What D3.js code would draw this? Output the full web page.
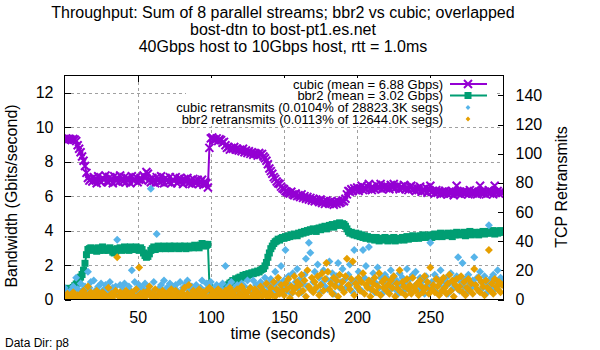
<!DOCTYPE html>
<html><head><meta charset="utf-8">
<script src="https://cdn.jsdelivr.net/npm/d3@7"></script>
<style>body{margin:0;background:#fff} text{font-family:"Liberation Sans",Arial,sans-serif;fill:#000}</style>
</head><body><svg id="c" width="600" height="350"></svg>
<script>
const titleLines = ["Throughput: Sum of 8 parallel streams; bbr2 vs cubic; overlapped", "bost-dtn to bost-pt1.es.net", "40Gbps host to 10Gbps host, rtt = 1.0ms"];
const xLabel = "time (seconds)";
const yLabel = "Bandwidth (Gbits/second)";
const y2Label = "TCP Retransmits";
const footer = "Data Dir: p8";
const xTicks = [50, 100, 150, 200, 250];
const yTicks = [0, 2, 4, 6, 8, 10, 12];
const y2Ticks = [0, 20, 40, 60, 80, 100, 120, 140];
const seriesNames = ["cubic (mean = 6.88 Gbps)", "bbr2 (mean = 3.02 Gbps)", "cubic retransmits (0.0104% of 28823.3K segs)", "bbr2 retransmits (0.0113% of 12644.0K segs)"];
const startTime = 0, stepSeconds = 1;

const cubic = [
9.30,9.35,9.28,9.33,9.30,9.25,9.32,9.28,9.20,8.95,
8.75,8.55,8.30,8.05,7.75,7.35,7.05,6.90,7.00,6.85,
7.10,6.95,6.75,7.15,6.90,6.80,7.05,6.95,7.20,6.85,
6.80,7.10,6.95,6.75,7.15,6.90,7.05,6.80,7.20,6.95,
6.85,7.10,6.80,7.05,6.95,6.75,7.15,6.90,6.95,7.10,
6.80,6.95,7.05,6.90,7.20,7.05,7.40,7.30,6.95,6.80,
7.05,6.90,6.75,7.10,6.95,6.80,7.15,6.90,6.75,7.05,
6.95,6.80,7.10,6.75,6.95,6.90,7.10,6.75,6.85,7.05,
6.90,6.70,7.00,6.85,7.05,6.75,6.90,6.70,7.00,6.85,
6.75,6.95,6.70,6.85,6.95,6.65,6.85,6.75,6.50,8.80,
9.35,9.40,9.30,9.25,9.35,9.20,9.30,9.25,9.10,9.15,
8.95,8.80,8.85,8.70,8.80,8.75,8.85,8.70,8.75,8.65,
8.70,8.60,8.75,8.55,8.65,8.50,8.60,8.45,8.55,8.40,
8.50,8.45,8.35,8.50,8.40,8.45,8.30,8.20,8.05,7.85,
7.60,7.45,7.30,7.10,7.00,6.85,6.75,6.70,6.55,6.45,
6.40,6.30,6.25,6.20,6.15,6.25,6.10,6.05,6.15,6.00,
6.05,5.95,6.10,5.90,6.00,5.85,5.95,5.80,5.90,5.75,
5.85,5.70,5.80,5.75,5.65,5.80,5.60,5.70,5.55,5.75,
5.65,5.55,5.70,5.60,5.50,5.65,5.55,5.70,5.60,5.65,
5.75,5.70,5.85,6.10,6.30,6.25,6.40,6.30,6.45,6.35,
6.50,6.30,6.45,6.60,6.35,6.50,6.40,6.55,6.70,6.45,
6.35,6.50,6.40,6.65,6.45,6.55,6.70,6.40,6.50,6.60,
6.45,6.55,6.40,6.65,6.50,6.70,6.45,6.55,6.60,6.40,
6.55,6.45,6.65,6.40,6.50,6.35,6.55,6.60,6.45,6.40,
6.30,6.45,6.35,6.55,6.25,6.40,6.30,6.50,6.20,6.35,
6.60,6.25,6.30,6.15,6.35,6.20,6.30,6.10,6.25,6.15,
6.30,6.20,6.10,6.25,6.15,6.30,6.05,6.20,6.60,6.15,
6.25,6.10,6.20,6.30,6.15,6.25,6.10,6.35,6.20,6.15,
6.30,6.20,6.10,6.25,6.60,6.15,6.30,6.20,6.10,6.25,
6.35,6.15,6.25,6.10,6.60,6.20,6.30,6.15,6.25,6.20];

const bbr2 = [
0.60,0.55,0.65,0.50,0.60,0.62,0.70,0.80,0.90,1.00,
1.15,1.30,1.45,1.70,2.10,2.60,2.90,2.95,3.00,2.85,
2.90,2.95,2.80,3.00,2.85,2.90,3.05,2.85,2.95,2.90,
2.85,3.00,2.90,2.75,2.70,2.80,2.95,2.90,3.00,2.85,
2.95,3.05,2.90,3.00,2.85,3.05,2.95,3.00,2.90,3.05,
2.95,2.85,3.00,2.90,2.70,2.55,2.45,2.50,2.65,2.85,
2.95,3.05,2.90,3.00,3.10,2.95,3.05,3.00,3.10,2.95,
3.05,3.00,3.10,2.95,3.05,3.10,3.00,3.05,2.95,3.10,
3.00,3.05,3.10,2.95,3.05,3.00,3.10,3.05,3.00,3.15,
3.05,3.10,3.00,3.15,3.25,3.10,3.20,3.15,3.20,0.90,
0.50,0.55,0.45,0.60,0.50,0.65,0.55,0.70,0.60,0.75,
0.65,0.80,0.85,0.95,1.00,1.10,1.05,1.20,1.15,1.25,
1.30,1.25,1.40,1.35,1.45,1.40,1.50,1.45,1.55,1.50,
1.60,1.55,1.65,1.60,1.70,1.75,1.80,1.95,2.15,2.45,
2.70,2.95,3.10,3.25,3.35,3.40,3.50,3.45,3.55,3.60,
3.55,3.65,3.60,3.70,3.65,3.75,3.70,3.80,3.75,3.70,
3.85,3.80,3.90,3.85,3.95,3.90,4.00,3.95,4.05,4.00,
4.10,4.05,3.95,4.10,4.15,4.05,4.20,4.15,4.25,4.10,
4.20,4.30,4.25,4.35,4.20,4.30,4.40,4.35,4.45,4.30,
4.40,4.35,4.25,4.10,3.95,3.85,3.90,3.80,3.75,3.85,
3.70,3.80,3.65,3.75,3.60,3.70,3.55,3.65,3.60,3.50,
3.60,3.55,3.45,3.60,3.50,3.40,3.55,3.50,3.45,3.60,
3.50,3.40,3.55,3.45,3.50,3.60,3.40,3.50,3.45,3.55,
3.50,3.60,3.45,3.55,3.65,3.50,3.60,3.55,3.70,3.55,
3.60,3.65,3.55,3.70,3.60,3.75,3.65,3.60,3.70,3.65,
3.75,3.60,3.70,3.80,3.65,3.75,3.70,3.85,3.65,3.75,
3.80,3.70,3.85,3.75,3.80,3.65,3.85,3.75,3.90,3.80,
3.75,3.85,3.80,3.90,3.70,3.85,3.80,3.95,3.75,3.85,
3.90,3.80,3.85,3.75,3.90,3.85,3.95,3.80,3.90,3.85,
3.95,3.85,3.90,4.00,3.80,3.95,3.85,3.90,4.00,3.90];

const cubicRetrans = [
8,3,5,2,6,4,9,3,15,7,
4,11,6,3,9,5,19,8,12,4,
13,6,2,9,5,11,3,7,10,4,
6,12,3,8,5,9,41,4,10,2,
7,11,5,3,9,6,20,4,12,7,
3,10,5,8,2,11,6,4,9,76,
5,12,3,45,7,4,10,6,13,3,
8,5,11,2,9,4,10,6,3,12,
5,8,2,11,13,6,4,9,3,7,
10,5,2,8,13,4,6,11,3,9,
12,4,7,2,10,5,8,3,11,6,
23,4,9,6,12,3,8,5,10,2,
7,11,4,9,3,13,6,8,5,13,
4,10,7,3,12,6,9,15,5,11,
8,14,6,10,19,4,12,7,23,9,
13,34,6,16,10,4,18,8,12,21,
7,14,5,11,17,28,9,39,32,6,
12,19,8,24,15,5,11,20,9,14,
7,26,13,18,4,10,16,25,8,12,
21,6,14,9,17,24,11,5,34,13,
8,19,12,6,34,15,23,10,36,7,
13,18,5,11,22,8,15,4,12,17,
9,14,6,20,11,16,7,13,4,18,
10,15,6,12,21,8,14,5,17,9,
19,11,6,15,9,13,4,16,10,7,
39,12,8,17,5,14,10,20,6,13,
9,15,4,11,18,7,13,10,16,29,
6,12,25,9,14,5,17,11,8,13,
29,10,15,6,19,12,8,16,4,11,
51,14,9,17,7,13,20,10,15,12];

const bbr2Retrans = [
2,0,4,1,3,0,5,2,1,3,
0,4,2,6,1,3,9,2,5,0,
3,1,6,2,4,0,5,1,3,2,
8,1,4,0,3,6,29,2,5,1,
3,0,6,2,4,1,5,3,0,7,
2,22,4,1,5,0,3,6,9,2,
4,1,7,0,3,5,2,6,1,4,
0,5,2,7,3,1,6,4,0,3,
5,2,8,1,4,10,3,0,6,2,
4,1,7,3,0,5,2,6,1,8,
3,6,1,4,0,7,2,5,3,1,
6,2,4,8,1,5,3,0,7,2,
4,9,1,6,3,5,0,8,2,4,
7,1,5,3,9,2,6,4,11,1,
5,8,3,12,2,7,15,4,10,6,
3,11,7,14,1,9,5,16,8,12,
4,10,17,6,13,2,20,9,7,15,
5,12,8,16,3,10,18,6,14,25,
19,7,11,4,15,9,13,2,17,8,
12,5,16,28,10,7,14,26,3,11,
9,15,6,12,18,4,10,8,13,2,
7,11,15,5,9,18,3,12,8,14,
6,10,4,13,8,16,2,11,7,20,
5,12,9,3,14,7,10,4,15,8,
6,11,3,13,9,5,16,8,12,4,
22,7,10,5,14,9,3,12,6,15,
8,4,11,17,6,13,2,10,14,7,
9,16,5,12,3,8,14,6,11,4,
21,10,7,15,5,12,9,3,13,8,
34,6,11,4,14,9,7,12,5,10];

const colors = ["#9400d3", "#009e73", "#56b4e9", "#e69f00"];

const svg = d3.select("#c");
const L = 64.5, R = 503.5, T = 75.5, B = 299.5;
const x = d3.scaleLinear().domain([0, 300]).range([L, R]);
const y = d3.scaleLinear().domain([0, 13]).range([B, T]);
const y2 = d3.scaleLinear().domain([0, 153.6]).range([B, T]);
const tOf = i => startTime + i * stepSeconds;

// grid
const grid = svg.append("g").attr("stroke", "#a0a0a0").attr("stroke-width", 1).attr("stroke-dasharray", "3,3").attr("shape-rendering", "crispEdges");
xTicks.forEach(v => grid.append("line").attr("x1", Math.round(x(v)) + 0.5).attr("x2", Math.round(x(v)) + 0.5).attr("y1", T).attr("y2", B));
yTicks.filter(v => v > 0).forEach(v => grid.append("line").attr("x1", L).attr("x2", R).attr("y1", Math.round(y(v)) + 0.5).attr("y2", Math.round(y(v)) + 0.5));

// axes (ticks inside)
const gx = svg.append("g").attr("transform", `translate(0,${B})`).call(d3.axisBottom(x).tickValues(xTicks).tickSizeInner(-6).tickSizeOuter(0).tickPadding(12));
const gxt = svg.append("g").attr("transform", `translate(0,${T})`).call(d3.axisTop(x).tickValues(xTicks).tickSizeInner(-6).tickSizeOuter(0).tickFormat(""));
const gy = svg.append("g").attr("transform", `translate(${L},0)`).call(d3.axisLeft(y).tickValues(yTicks).tickSizeInner(-6).tickSizeOuter(0).tickPadding(11));
const gy2 = svg.append("g").attr("transform", `translate(${R},0)`).call(d3.axisRight(y2).tickValues(y2Ticks).tickSizeInner(-6).tickSizeOuter(0).tickPadding(12));
[gx, gxt, gy, gy2].forEach(g => {
  g.select(".domain").remove();
  g.selectAll("line").attr("stroke", "#000").attr("shape-rendering", "crispEdges");
  g.selectAll("text").attr("font-size", 16).attr("font-family", "Liberation Sans, Arial, sans-serif").attr("fill", "#000");
});

// legend background (opaque)
svg.append("rect").attr("x", 186).attr("y", 78).attr("width", 308).attr("height", 48).attr("fill", "#fff");

// series
svg.append("clipPath").attr("id", "clp").append("rect").attr("x", L).attr("y", T).attr("width", R - L).attr("height", B - T);
const plot = svg.append("g").attr("clip-path", "url(#clp)");
const line = d3.line().x((d, i) => x(tOf(i))).y(d => y(d));
const xMark = "M-4,-4L4,4M-4,4L4,-4";
plot.append("path").datum(cubic).attr("d", line).attr("fill", "none").attr("stroke", colors[0]).attr("stroke-width", 2);
plot.append("g").selectAll("path").data(cubic).join("path")
  .attr("transform", (d, i) => `translate(${x(tOf(i))},${y(d)})`).attr("d", xMark)
  .attr("stroke", colors[0]).attr("stroke-width", 2).attr("fill", "none");
plot.append("path").datum(bbr2).attr("d", line).attr("fill", "none").attr("stroke", colors[1]).attr("stroke-width", 2);
plot.append("g").selectAll("rect").data(bbr2).join("rect")
  .attr("x", (d, i) => x(tOf(i)) - 3.5).attr("y", d => y(d) - 3.5).attr("width", 7).attr("height", 7).attr("fill", colors[1]);
const diamond = "M0,-4L4,0L0,4L-4,0Z";
[[cubicRetrans, colors[2]], [bbr2Retrans, colors[3]]].forEach(([arr, c]) => {
  plot.append("g").selectAll("path").data(arr).join("path")
    .attr("transform", (d, i) => `translate(${x(tOf(i))},${y2(d)})`).attr("d", diamond).attr("fill", c);
});

// border
svg.append("rect").attr("x", L).attr("y", T).attr("width", R - L).attr("height", B - T).attr("fill", "none").attr("stroke", "#000").attr("shape-rendering", "crispEdges");

// legend
const leg = svg.append("g");
const rowsY = [84, 95.5, 107.5, 119];
seriesNames.forEach((n, k) => {
  leg.append("text").attr("x", 443).attr("y", rowsY[k] + 4.5).attr("text-anchor", "end").attr("font-size", 13).text(n);
});
leg.append("line").attr("x1", 450).attr("x2", 487).attr("y1", rowsY[0]).attr("y2", rowsY[0]).attr("stroke", colors[0]).attr("stroke-width", 2);
leg.append("path").attr("transform", `translate(468,${rowsY[0]})`).attr("d", xMark).attr("stroke", colors[0]).attr("stroke-width", 2);
leg.append("line").attr("x1", 450).attr("x2", 487).attr("y1", rowsY[1]).attr("y2", rowsY[1]).attr("stroke", colors[1]).attr("stroke-width", 2);
leg.append("rect").attr("x", 468 - 3.5).attr("y", rowsY[1] - 3.5).attr("width", 7).attr("height", 7).attr("fill", colors[1]);
leg.append("path").attr("transform", `translate(468,${rowsY[2]}) scale(0.6)`).attr("d", diamond).attr("fill", colors[2]);
leg.append("path").attr("transform", `translate(468,${rowsY[3]}) scale(0.6)`).attr("d", diamond).attr("fill", colors[3]);

// titles
titleLines.forEach((t, k) => svg.append("text").attr("x", 283).attr("y", 17.5 + k * 17).attr("text-anchor", "middle").attr("font-size", 16).text(t));
svg.append("text").attr("x", 283).attr("y", 339).attr("text-anchor", "middle").attr("font-size", 16).text(xLabel);
svg.append("text").attr("transform", "translate(17,196) rotate(-90)").attr("text-anchor", "middle").attr("font-size", 16).text(yLabel);
svg.append("text").attr("transform", "translate(567,187) rotate(-90)").attr("text-anchor", "middle").attr("font-size", 16).text(y2Label);
svg.append("text").attr("x", 5).attr("y", 346.5).attr("font-size", 12).text(footer);
</script></body></html>
